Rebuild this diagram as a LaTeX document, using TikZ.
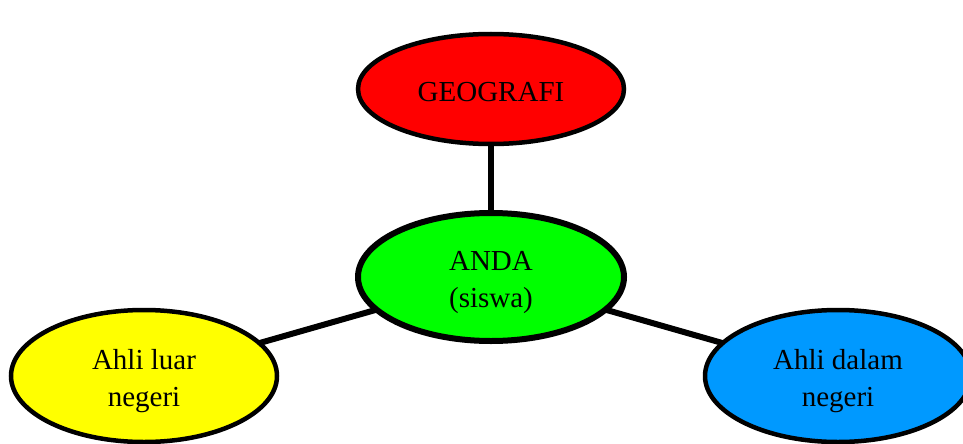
\documentclass[tikz,border=0pt]{standalone}
\usepackage{fontspec}
\setmainfont{Liberation Serif}
\usetikzlibrary{shapes.geometric}
\definecolor{cred}{HTML}{FF0000}
\definecolor{cgreen}{HTML}{00FF00}
\definecolor{cyellow}{HTML}{FFFF00}
\definecolor{cblue}{HTML}{0099FF}
\newcommand{\lowtxt}[1]{\raisebox{-5pt}[\height][\depth]{\begin{tabular}{@{}c@{}}#1\end{tabular}}}
\begin{document}
\begin{tikzpicture}[x=1pt,y=-1pt,
  blob/.style={ellipse,draw=black,line width=4.5pt,minimum width=266pt,
    font=\fontsize{29}{37}\selectfont,inner sep=0pt},
  link/.style={line width=6pt,draw=black}]
\useasboundingbox (0,0) rectangle (963,444);
\begin{scope}
\clip (0,0) rectangle (963,444);
\coordinate (g) at (491,89);
\coordinate (a) at (491,277);
\coordinate (y) at (144,376);
\coordinate (b) at (838,376);
\draw[link] (g) -- (a);
\draw[link] (a) -- (y);
\draw[link] (a) -- (b);
\node[blob,fill=cred,minimum height=110pt] (geo) at (g) {\lowtxt{GEOGRAFI}};
\node[blob,fill=cgreen,minimum height=128pt,line width=6pt] (anda) at (a) {\lowtxt{ANDA\\(siswa)}};
\node[blob,fill=cyellow,minimum height=132pt] (luar) at (y) {\lowtxt{Ahli luar\\negeri}};
\node[blob,fill=cblue,minimum height=132pt] (dalam) at (b) {\lowtxt{Ahli dalam\\negeri}};
\end{scope}
\end{tikzpicture}
\end{document}
